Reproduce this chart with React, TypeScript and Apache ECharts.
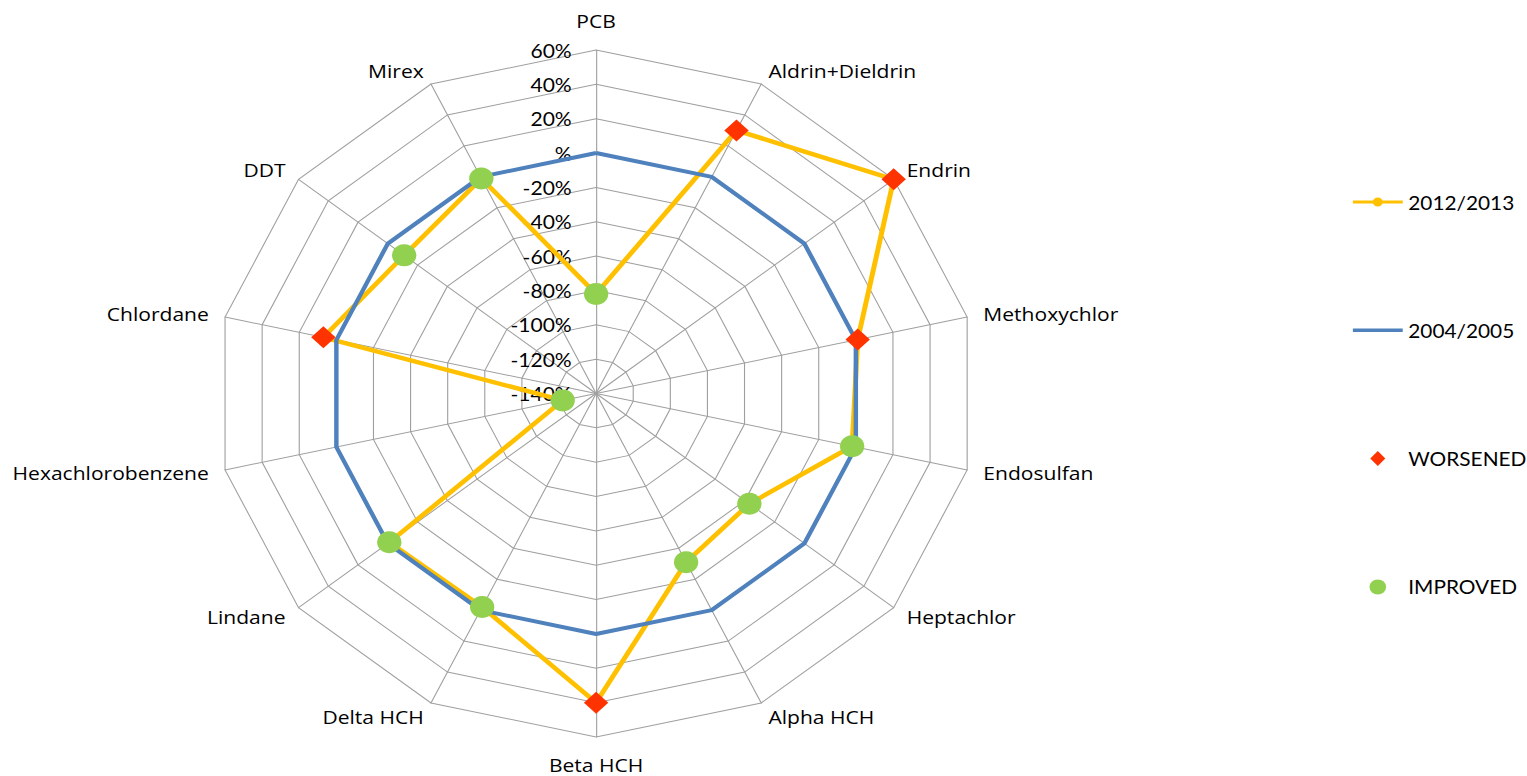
import React, { useEffect, useRef } from "react";
import * as echarts from "echarts";

// Pollutants, listed clockwise from the top axis
const categories = [
  "PCB",
  "Aldrin+Dieldrin",
  "Endrin",
  "Methoxychlor",
  "Endosulfan",
  "Heptachlor",
  "Alpha HCH",
  "Beta HCH",
  "Delta HCH",
  "Lindane",
  "Hexachlorobenzene",
  "Chlordane",
  "DDT",
  "Mirex",
];

// Change relative to the 2004/2005 baseline, in %
const change2012 = [-82, 30, 60, 1, -2, -37, -31, 40, -2, -1, -122, 7, -11, -1];
const baseline2004 = [0, 0, 0, 0, 0, 0, 0, 0, 0, 0, 0, 0, 0, 0];

// Radial scale
const axisMin = -140;
const axisMax = 60;
const axisStep = 20;
const tickLabels = ["-140%", "-120%", "-100%", "-80%", "-60%", "-40%", "-20%", "%", "20%", "40%", "60%"];

const seriesNames = ["2012/2013", "2004/2005", "WORSENED", "IMPROVED"];

const COLORS = {
  current: "#ffc000",
  baseline: "#4f81bd",
  worse: "#ff3300",
  better: "#92d050",
  grid: "#9f9f9f",
  text: "#000000",
};

// The drawing is laid out on a narrower canvas and widened horizontally
const STRETCH = 1.108;
const PAGE_W = 1527;
const PAGE_H = 776;
const CANVAS_W = Math.round(PAGE_W / STRETCH);
const CX = 538;
const CY = 393.5;
const R = 343.5;
const LABEL_FONT = "Lato, 'Open Sans', sans-serif";
const NAME_FONT = "'Open Sans', 'Noto Sans', sans-serif";

// Radar indicators run counter-clockwise, so keep the first and reverse the rest
const radarOrder = categories.map((_, k) => (categories.length - k) % categories.length);

export default function App() {
  const ref = useRef<HTMLDivElement | null>(null);

  useEffect(() => {
    if (!ref.current) return;
    const chart = echarts.init(ref.current, undefined, { renderer: "svg" });

    const worsened = categories
      .map((_, i) => (change2012[i] > baseline2004[i] ? [change2012[i], i] : null))
      .filter((d) => d !== null);
    const improved = categories
      .map((_, i) => (change2012[i] <= baseline2004[i] ? [change2012[i], i] : null))
      .filter((d) => d !== null);

    // Legend glyphs (kept at their own aspect ratio inside the 45x15 slot)
    const lineIcon = "path://M0,0 L45,0 L45,3.5 L0,3.5 Z";
    const lineDotIcon =
      "path://M0,3 L45,3 L45,6 L0,6 Z M18,4.5 A4.5,4.5 0 1,1 27,4.5 A4.5,4.5 0 1,1 18,4.5 Z";
    const diamondIcon = "path://M6.8,0 L13.6,7.5 L6.8,15 L0,7.5 Z";
    const circleIcon = "path://M0,6.5 A6.5,6.5 0 1,1 13,6.5 A6.5,6.5 0 1,1 0,6.5 Z";

    const option: any = {
      animation: false,
      backgroundColor: "#ffffff",
      textStyle: { fontFamily: LABEL_FONT },
      radar: {
        center: [CX, CY],
        radius: R,
        startAngle: 90,
        shape: "polygon",
        splitNumber: (axisMax - axisMin) / axisStep,
        nameGap: 15,
        axisName: {
          color: COLORS.text,
          fontSize: 19,
          fontFamily: NAME_FONT,
          padding: [3, 0, 5, 0],
        },
        indicator: radarOrder.map((i) => ({
          name: categories[i],
          min: axisMin,
          max: axisMax,
          axisLabel: { show: i === 0 },
        })),
        axisLabel: {
          color: COLORS.text,
          fontSize: 19,
          fontFamily: LABEL_FONT,
          margin: 22,
          formatter: (v: number) => tickLabels[Math.round((v - axisMin) / axisStep)] ?? "",
        },
        axisLine: { lineStyle: { color: COLORS.grid, width: 1 } },
        axisTick: { show: false },
        splitLine: { lineStyle: { color: COLORS.grid, width: 1 } },
        splitArea: { show: false },
      },
      polar: { center: [CX, CY], radius: R },
      angleAxis: {
        type: "value",
        min: 0,
        max: categories.length,
        startAngle: 90,
        clockwise: true,
        show: false,
      },
      radiusAxis: { type: "value", min: axisMin, max: axisMax, show: false },
      legend: {
        orient: "vertical",
        left: 1216,
        top: 187,
        padding: 5,
        itemWidth: 45,
        itemHeight: 15,
        itemGap: 108.3,
        selectedMode: false,
        symbolKeepAspect: true,
        textStyle: { fontFamily: LABEL_FONT, fontSize: 18.8, color: COLORS.text, lineHeight: 20 },
        data: [
          { name: seriesNames[0], icon: lineDotIcon },
          { name: seriesNames[1], icon: lineIcon },
          { name: seriesNames[2], icon: diamondIcon },
          { name: seriesNames[3], icon: circleIcon },
        ],
      },
      series: [
        {
          type: "radar",
          name: seriesNames[0],
          symbol: "none",
          itemStyle: { color: COLORS.current },
          lineStyle: { color: COLORS.current, width: 4.5 },
          data: [{ name: seriesNames[0], value: radarOrder.map((i) => change2012[i]) }],
        },
        {
          type: "radar",
          name: seriesNames[1],
          symbol: "none",
          itemStyle: { color: COLORS.baseline },
          lineStyle: { color: COLORS.baseline, width: 4 },
          data: [{ name: seriesNames[1], value: radarOrder.map((i) => baseline2004[i]) }],
        },
        {
          type: "scatter",
          name: seriesNames[2],
          coordinateSystem: "polar",
          symbol: "diamond",
          symbolSize: 22,
          z: 5,
          itemStyle: { color: COLORS.worse, opacity: 1 },
          data: worsened,
        },
        {
          type: "scatter",
          name: seriesNames[3],
          coordinateSystem: "polar",
          symbol: "circle",
          symbolSize: 22,
          z: 5,
          itemStyle: { color: COLORS.better, opacity: 1 },
          data: improved,
        },
      ],
    };

    chart.setOption(option);
    return () => chart.dispose();
  }, []);

  return (
    <div
      style={{
        position: "fixed",
        left: 0,
        top: 0,
        width: PAGE_W,
        height: PAGE_H,
        overflow: "hidden",
        background: "#ffffff",
      }}
    >
      <div
        ref={ref}
        style={{
          width: CANVAS_W,
          height: PAGE_H,
          transform: `scaleX(${STRETCH})`,
          transformOrigin: "0 0",
        }}
      />
    </div>
  );
}
